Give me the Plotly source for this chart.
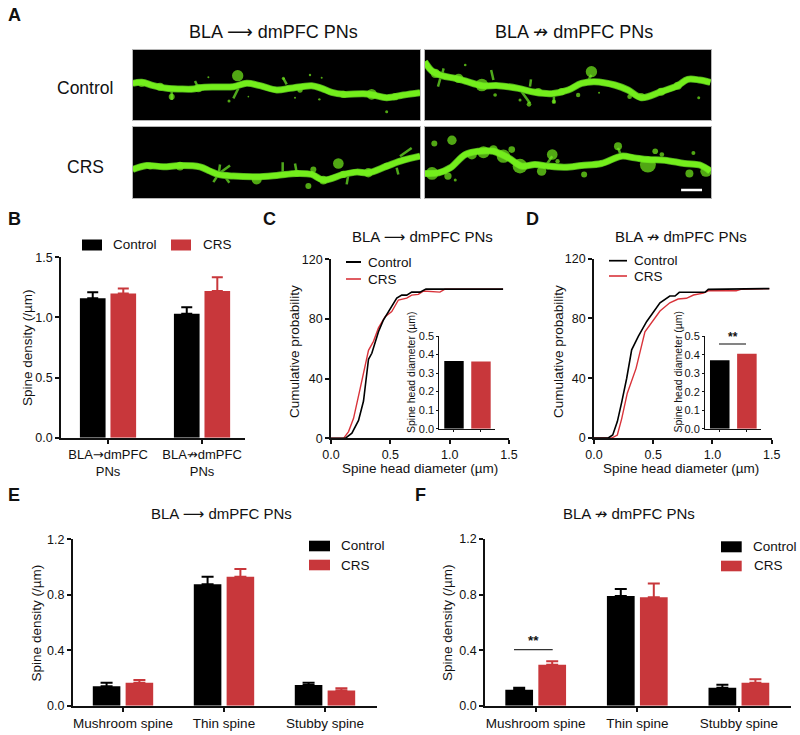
import plotly.graph_objects as go

W, H = 800, 735
FONT = "Liberation Sans, Arial, DejaVu Sans, sans-serif"
BLACK = "#000000"
RED = "#C8373B"
LINE_RED = "#D9333A"
GREEN = "#74EE1C"
GREEN_DIM = "#4FA81C"
ARROW = '<span style="font-family:DejaVu Sans">⟶</span>'
XARROW = '<span style="font-family:DejaVu Sans">↛</span>'
SARROW = '<span style="font-family:DejaVu Sans">→</span>'

# ---------- data: bar charts ----------
SERIES = ["Control", "CRS"]
b_cats = ["BLA" + SARROW + "dmPFC<br>PNs", "BLA" + XARROW + "dmPFC<br>PNs"]
b_control = [1.16, 1.03]
b_crs = [1.20, 1.22]
b_control_err = [0.05, 0.055]
b_crs_err = [0.04, 0.115]

spine_cats = ["Mushroom spine", "Thin spine", "Stubby spine"]
e_control = [0.14, 0.875, 0.15]
e_crs = [0.165, 0.93, 0.11]
e_control_err = [0.025, 0.055, 0.015]
e_crs_err = [0.02, 0.055, 0.015]
f_control = [0.115, 0.79, 0.13]
f_crs = [0.295, 0.78, 0.165]
f_control_err = [0.015, 0.05, 0.02]
f_crs_err = [0.025, 0.10, 0.025]

c_inset = [0.365, 0.363]
d_inset = [0.37, 0.405]

# ---------- data: cumulative curves ----------
c_ctrl_x = [0, .12, .176, .232, .274, .297, .316, .344, .372, .40, .44, .498, .554, .596, .638, .68, .75, .80, 1.45]
c_ctrl_y = [0, 0, 3.4, 12, 25, 40, 53, 57, 64, 71.5, 79, 87, 94, 96, 96, 98, 98, 100, 100]
c_crs_x = [0, .106, .148, .19, .246, .288, .316, .358, .40, .456, .512, .568, .638, .68, .736, .778, .918, .96, 1.45]
c_crs_y = [0, 0, 4.5, 13.4, 33.5, 49, 59, 65, 74, 81.5, 85, 92.7, 94, 96, 96.5, 98.7, 98, 100, 100]
d_ctrl_x = [0, .12, .158, .197, .234, .276, .318, .374, .445, .557, .64, .684, .72, .937, .965, 1.48]
d_ctrl_y = [0, 0, 2, 11, 24, 40, 59, 68, 78, 90.5, 95, 95, 97.5, 97.5, 99.5, 100]
d_crs_x = [0, .15, .197, .234, .281, .355, .43, .557, .64, .71, .78, .84, .923, .965, 1.2, 1.24, 1.48]
d_crs_y = [0, 0, 2, 13, 30, 46.6, 71, 85, 90.5, 93, 93.5, 95.7, 97, 98.5, 98.5, 99.5, 100]

# ---------- data: micrograph traces (read in 3x crop units) ----------
m1_path = [(8,115),(35,112),(70,122),(110,130),(150,132),(190,132),(210,128),(260,126),(310,125),(350,115),(390,122),(440,135),(480,130),(545,122),(575,130),(605,142),(640,148),(700,146),(730,150),(770,158),(820,150),(870,143)]
m1_blobs = [(35,115,22),(125,155,18),(323,92,34),(205,130,24),(445,135,14),(510,135,16),(640,148,22),(725,148,32),(795,155,22),(235,97,6),(460,100,9),(540,90,7),(575,98,6),(568,163,7),(770,200,9),(297,168,9),(495,158,6),(355,155,5),(90,125,24)]
m1_spines = [[(125,135),(125,165)],[(195,108),(205,130)],[(310,160),(325,130)],[(460,100),(470,118)]]

m2_path = [(8,50),(30,78),(60,92),(100,100),(130,108),(180,122),(230,122),(290,130),(340,142),(390,146),(440,135),(480,115),(520,110),(580,120),(620,135),(660,158),(720,140),(770,122),(800,103),(835,105),(868,112)]
m2_blobs = [(510,80,34),(180,120,38),(110,100,28),(40,85,28),(322,178,14),(397,170,13),(470,150,13),(295,165,9),(220,150,11),(130,60,8),(533,143,6),(833,158,9),(625,155,14),(660,155,22),(350,140,22),(420,140,22),(720,140,24),(770,122,24)]
m2_spines = [[(510,90),(495,115)],[(325,175),(300,140)],[(397,175),(397,150)],[(208,75),(215,105)],[(328,103),(325,125)],[(48,125),(55,100)],[(65,70),(60,90)]]

m3_path = [(8,140),(50,128),(100,132),(150,128),(210,132),(240,145),(265,155),(310,160),(380,162),(440,158),(500,152),(545,155),(580,172),(640,155),(680,148),(715,150),(770,130),(820,112),(870,100)]
m3_blobs = [(60,130,20),(150,130,26),(380,170,30),(580,172,26),(625,122,32),(715,150,28),(535,190,18),(550,140,18),(640,155,22),(500,152,20),(770,130,20),(820,112,18)]
m3_spines = [[(458,118),(458,155)],[(495,122),(500,150)],[(810,100),(845,75)],[(270,125),(265,160)],[(300,128),(270,150)],[(250,178),(265,155)],[(298,180),(280,155)],[(650,185),(655,155)],[(805,155),(800,135)]]

m4_path = [(8,152),(50,150),(85,135),(130,95),(170,85),(215,85),(260,105),(300,130),(340,125),(380,130),(430,133),(480,128),(540,122),(600,100),(640,105),(680,110),(730,112),(790,122),(840,128),(868,145)]
m4_blobs = [(30,152,38),(150,95,30),(185,88,36),(215,80,26),(245,100,40),(270,80,20),(295,130,44),(360,145,28),(392,95,32),(408,115,13),(488,155,18),(590,70,24),(680,125,48),(702,85,17),(722,95,14),(805,152,24),(817,90,12),(855,145,34),(90,52,28),(37,62,18),(78,160,22),(100,172,9)]
m4_spines = [[(590,75),(600,100)],[(392,100),(375,125)]]
scale_bar = [(780,202),(843,202)]

traces, layout, shapes, notes = [], {}, [], []
n_ax = 0


def add_axes(x0, x1, ytop, ybot, xopts, yopts):
    global n_ax
    n_ax += 1
    s = "" if n_ax == 1 else str(n_ax)
    layout["xaxis" + s] = dict(domain=[x0 / W, x1 / W], anchor="y" + s, automargin=False, **xopts)
    layout["yaxis" + s] = dict(domain=[1 - ybot / H, 1 - ytop / H], anchor="x" + s, automargin=False, **yopts)
    return "x" + s, "y" + s


def text(x, y, s, size=13.5, anchor="center", angle=0, bold=False):
    notes.append(dict(x=x / W, y=1 - y / H, xref="paper", yref="paper", text=f"<b>{s}</b>" if bold else s,
                      showarrow=False, xanchor=anchor, yanchor="middle", textangle=angle,
                      font=dict(family=FONT, size=size, color="#111111")))


def rect(x0, y0, x1, y1, color, layer="above"):
    shapes.append(dict(type="rect", xref="paper", yref="paper", x0=x0 / W, x1=x1 / W, y0=1 - y0 / H, y1=1 - y1 / H,
                       fillcolor=color, line=dict(width=0), layer=layer))


def hline(x0, x1, y, color, width):
    shapes.append(dict(type="line", xref="paper", yref="paper", x0=x0 / W, x1=x1 / W, y0=1 - y / H, y1=1 - y / H,
                       line=dict(color=color, width=width)))


def axis_style(size=12, lw=1.7, tl=4, standoff=0):
    return dict(showgrid=False, zeroline=False, showline=True, linecolor="#111111", linewidth=lw,
                ticks="outside", ticklen=tl, tickwidth=lw, tickcolor="#111111", ticklabelstandoff=standoff,
                tickfont=dict(family=FONT, size=size, color="#111111"))


def micrograph(x0, x1, ytop, ybot, path, blobs, spines, y0=14):
    hide = dict(showgrid=False, zeroline=False, showticklabels=False, ticks="", showline=True, mirror=True,
                linecolor="#B5B5B5", linewidth=1)
    rect(x0, ytop, x1, ybot, "#000000", "below")
    xa, ya = add_axes(x0, x1, ytop, ybot, dict(range=[8, 870], **hide), dict(range=[226, y0], **hide))
    px, py = zip(*path)
    traces.append(go.Scatter(x=px, y=py, mode="lines", xaxis=xa, yaxis=ya,
                             line=dict(color=GREEN_DIM, width=7, shape="spline"), hoverinfo="skip"))
    for seg in spines:
        sx, sy = zip(*seg)
        traces.append(go.Scatter(x=sx, y=sy, mode="lines", xaxis=xa, yaxis=ya,
                                 line=dict(color=GREEN_DIM, width=2.5), hoverinfo="skip"))
    traces.append(go.Scatter(x=px, y=py, mode="lines", xaxis=xa, yaxis=ya,
                             line=dict(color=GREEN, width=5.5, shape="spline"), hoverinfo="skip"))
    bx, by, bs = zip(*blobs)
    traces.append(go.Scatter(x=bx, y=by, mode="markers", xaxis=xa, yaxis=ya,
                             marker=dict(color=GREEN, size=[s / 3 for s in bs], line=dict(width=0)), hoverinfo="skip"))
    return xa, ya


def bars(xa, ya, cats, ctrl, crs, e1=None, e2=None, cap=6, thick=2):
    for name, vals, err, col in ((SERIES[0], ctrl, e1, BLACK), (SERIES[1], crs, e2, RED)):
        ey = dict(type="data", array=err, arrayminus=[0] * len(err), symmetric=False, color=col,
                  thickness=thick, width=cap)
        traces.append(go.Bar(x=cats, y=vals, name=name, marker=dict(color=col, line=dict(width=0)),
                             error_y=ey, xaxis=xa, yaxis=ya, offsetgroup=name))


# ---------- panel A ----------
micrograph(132.7, 420, 49.7, 120.3, m1_path, m1_blobs, m1_spines)
micrograph(424.7, 711, 49.7, 120.3, m2_path, m2_blobs, m2_spines)
micrograph(132.7, 420, 127, 198, m3_path, m3_blobs, m3_spines, y0=12)
xa, ya = micrograph(424.7, 711, 127, 198, m4_path, m4_blobs, m4_spines, y0=12)
sx, sy = zip(*scale_bar)
traces.append(go.Scatter(x=sx, y=sy, mode="lines", xaxis=xa, yaxis=ya, line=dict(color="#FFFFFF", width=2.5),
                         hoverinfo="skip"))
text(6, 15, "A", 18, "left", bold=True)
text(273, 31, f"BLA {ARROW} dmPFC PNs", 18)
text(574, 31, f"BLA {XARROW} dmPFC PNs", 18)
text(85, 88, "Control", 17.5)
text(85, 167, "CRS", 17.5)

# ---------- panel B ----------
xa, ya = add_axes(61, 245, 257.3, 437.7,
                  dict(range=[-0.5, 1.457], type="category", **axis_style(13)),
                  dict(range=[0, 1.5], tickvals=[0, .5, 1, 1.5], tickformat=".1f", **axis_style(12.5)))
bars(xa, ya, b_cats, b_control, b_crs, b_control_err, b_crs_err, cap=5.5)
text(6, 219, "B", 18, "left", bold=True)
text(27, 348, "Spine density (/µm)", 13.5, angle=-90)
rect(82, 239.5, 102, 250.5, BLACK)
rect(171, 239.5, 191, 250.5, RED)
text(111, 244, SERIES[0], 13.5, "left")
text(201, 244, SERIES[1], 13.5, "left")

# ---------- panel C ----------
xa, ya = add_axes(331, 509, 259.3, 438.3,
                  dict(range=[0, 1.5], tickvals=[0, .5, 1, 1.5], tickformat=".1f", **axis_style(12.5)),
                  dict(range=[0, 120], tickvals=[0, 40, 80, 120], **axis_style(12.5)))
traces.append(go.Scatter(x=c_crs_x, y=c_crs_y, mode="lines", name="CRS", line=dict(color=LINE_RED, width=1.4),
                         xaxis=xa, yaxis=ya))
traces.append(go.Scatter(x=c_ctrl_x, y=c_ctrl_y, mode="lines", name="Control", line=dict(color=BLACK, width=1.6),
                         xaxis=xa, yaxis=ya))
text(261, 219, "C", 18, "left", bold=True)
text(422.7, 237, f"BLA {ARROW} dmPFC PNs", 15)
text(294, 352, "Cumulative probability", 13.5, angle=-90)
text(420, 469, "Spine head diameter (µm)", 13.5)
hline(346, 361, 262, BLACK, 2)
hline(346, 361, 279, LINE_RED, 1.6)
text(366, 262, SERIES[0], 13.5, "left")
text(366, 279, SERIES[1], 13.5, "left")

xa, ya = add_axes(439.3, 495, 336, 428.7,
                  dict(range=[-0.544, 1.52], type="category", showticklabels=False, **axis_style(11, 1, 2)),
                  dict(range=[0, .5], tickvals=[0, .1, .2, .3, .4, .5], tickformat=".1f", **axis_style(11, 1, 2)))
traces.append(go.Bar(x=SERIES, y=c_inset, marker=dict(color=[BLACK, RED], line=dict(width=0)), xaxis=xa, yaxis=ya,
                     width=0.72))
text(411, 372, "Spine head diameter (µm)", 10.5, angle=-90)

# ---------- panel D ----------
xa, ya = add_axes(594, 771.7, 258.7, 438,
                  dict(range=[0, 1.5], tickvals=[0, .5, 1, 1.5], tickformat=".1f", **axis_style(12.5)),
                  dict(range=[0, 120], tickvals=[0, 40, 80, 120], **axis_style(12.5)))
traces.append(go.Scatter(x=d_crs_x, y=d_crs_y, mode="lines", name="CRS", line=dict(color=LINE_RED, width=1.4),
                         xaxis=xa, yaxis=ya))
traces.append(go.Scatter(x=d_ctrl_x, y=d_ctrl_y, mode="lines", name="Control", line=dict(color=BLACK, width=1.6),
                         xaxis=xa, yaxis=ya))
text(524, 219, "D", 18, "left", bold=True)
text(680.7, 237, f"BLA {XARROW} dmPFC PNs", 15)
text(558, 352, "Cumulative probability", 13.5, angle=-90)
text(681, 469, "Spine head diameter (µm)", 13.5)
hline(609, 627, 260.7, BLACK, 1.7)
hline(609, 627, 276, LINE_RED, 1.6)
text(631.7, 260.7, SERIES[0], 13.5, "left")
text(631.7, 276, SERIES[1], 13.5, "left")

xa, ya = add_axes(705, 761, 336.3, 428.7,
                  dict(range=[-0.544, 1.52], type="category", showticklabels=False, **axis_style(11, 1, 2)),
                  dict(range=[0, .5], tickvals=[0, .1, .2, .3, .4, .5], tickformat=".1f", **axis_style(11, 1, 2)))
traces.append(go.Bar(x=SERIES, y=d_inset, marker=dict(color=[BLACK, RED], line=dict(width=0)), xaxis=xa, yaxis=ya,
                     width=0.72))
text(677.5, 372, "Spine head diameter (µm)", 10.5, angle=-90)
text(733, 337, "**", 12, bold=True)
hline(719, 746, 344, "#333333", 1.2)

# ---------- panel E ----------
xa, ya = add_axes(72.7, 376.7, 539.3, 705.7,
                  dict(range=[-0.498, 2.512], type="category", **axis_style(13.5)),
                  dict(range=[0, 1.2], tickvals=[0, .4, .8, 1.2], tickformat=".1f", **axis_style(12.5)))
bars(xa, ya, spine_cats, e_control, e_crs, e_control_err, e_crs_err)
text(6, 495, "E", 18, "left", bold=True)
text(221.7, 514, f"BLA {ARROW} dmPFC PNs", 15)
text(36.7, 622.7, "Spine density (/µm)", 13.5, angle=-90)
rect(309, 540.7, 330, 551.3, BLACK)
rect(309, 559.7, 330, 570.3, RED)
text(338.7, 545.7, SERIES[0], 13.5, "left")
text(338.7, 565, SERIES[1], 13.5, "left")

# ---------- panel F ----------
xa, ya = add_axes(485, 790.7, 539, 705.7,
                  dict(range=[-0.499, 2.51], type="category", **axis_style(13.5)),
                  dict(range=[0, 1.2], tickvals=[0, .4, .8, 1.2], tickformat=".1f", **axis_style(12.5)))
bars(xa, ya, spine_cats, f_control, f_crs, f_control_err, f_crs_err)
text(413, 495, "F", 18, "left", bold=True)
text(629, 514, f"BLA {XARROW} dmPFC PNs", 15)
text(447.3, 622.7, "Spine density (/µm)", 13.5, angle=-90)
rect(721, 541.3, 741.7, 552.3, BLACK)
rect(721, 560.7, 741.7, 571.3, RED)
text(750.7, 546, SERIES[0], 13.5, "left")
text(752, 565, SERIES[1], 13.5, "left")
text(533, 640, "**", 13.5, bold=True)
hline(514, 552.7, 649.7, "#333333", 1.2)

fig = go.Figure(data=traces)
fig.update_layout(width=W, height=H, autosize=False, margin=dict(l=0, r=0, t=0, b=0, pad=0),
                  paper_bgcolor="white", plot_bgcolor="rgba(0,0,0,0)",
                  showlegend=False, barmode="group", bargap=0.35, bargroupgap=0.16,
                  font=dict(family=FONT), shapes=shapes, annotations=notes, **layout)
fig.write_html("out.html", config={"displayModeBar": False},
               default_width="800px", default_height="735px",
               post_script="document.documentElement.style.margin='0';document.body.style.margin='0';"
                           "document.body.style.padding='0';document.documentElement.style.overflow='hidden';"
                           "window.dispatchEvent(new Event('resize'));")
